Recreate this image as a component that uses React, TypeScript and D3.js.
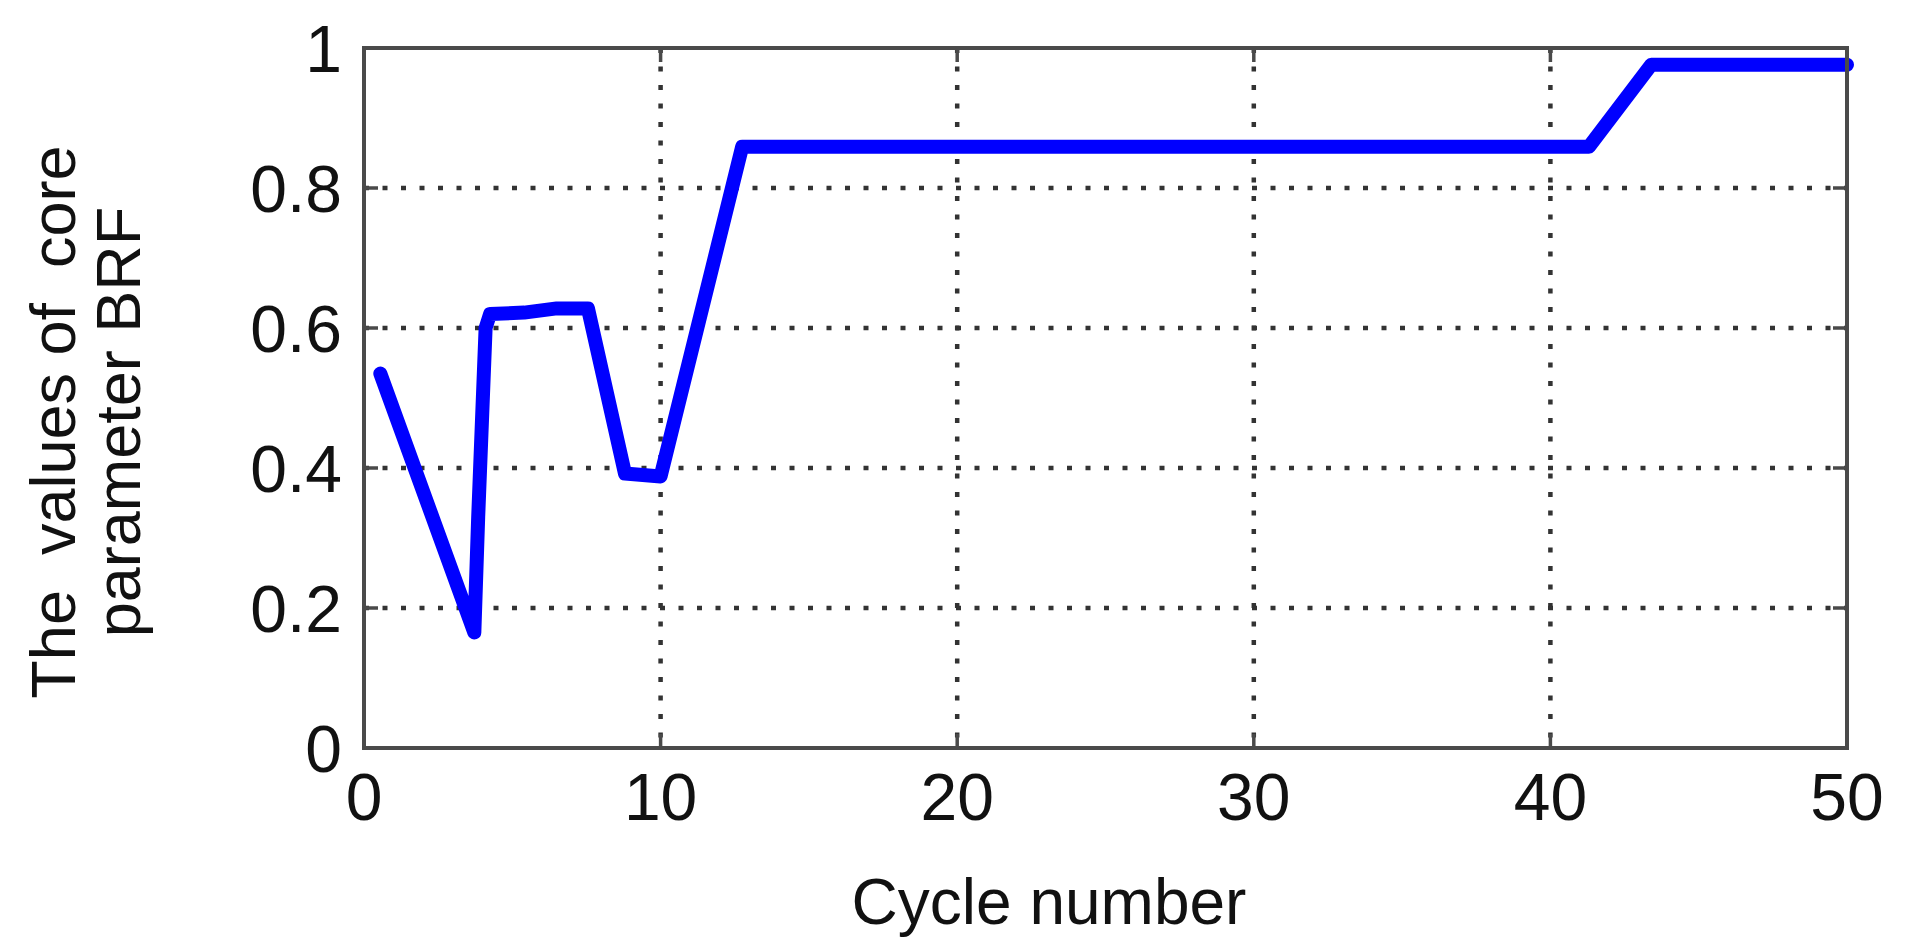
import React from "react";
import * as d3 from "d3";

const cycles = [0.55, 3.72, 3.85, 4.1, 4.25, 5.4, 6.5, 7.55, 8.8, 10.0, 12.75, 41.3, 43.4, 50];
const brf = [0.535, 0.165, 0.33, 0.6, 0.62, 0.622, 0.628, 0.628, 0.392, 0.388, 0.859, 0.859, 0.976, 0.976];
const xTicks = [0, 10, 20, 30, 40, 50];
const xTickLabels = ["0", "10", "20", "30", "40", "50"];
const yTicks = [0, 0.2, 0.4, 0.6, 0.8, 1];
const yTickLabels = ["0", "0.2", "0.4", "0.6", "0.8", "1"];
const xTitle = "Cycle number";
const yTitleLines = ["The  values of  core", "parameter BRF"];

const W = 1906;
const H = 946;
const L = 364, R = 1847, T = 48, B = 748;
const FONT = "'Liberation Sans', Arial, sans-serif";

export default function App() {
  const x = d3.scaleLinear().domain([0, 50]).range([L, R]);
  const y = d3.scaleLinear().domain([0, 1]).range([B, T]);
  const pts: [number, number][] = cycles.map((c, i) => [c, brf[i]]);
  const line = d3
    .line<[number, number]>()
    .x((d) => x(d[0]))
    .y((d) => y(d[1]));
  const tickLen = 14;
  const gridColor = "#333";
  const axisColor = "#4a4a4a";

  return (
    <svg
      width={W}
      height={H}
      style={{ position: "absolute", left: 0, top: 0, display: "block", background: "#fff" }}
    >
      <rect x={0} y={0} width={W} height={H} fill="#fff" />
      {/* grid */}
      {xTicks
        .filter((t) => t > 0 && t < 50)
        .map((t) => (
          <line
            key={"gx" + t}
            x1={x(t)}
            x2={x(t)}
            y1={T}
            y2={B}
            stroke={gridColor}
            strokeWidth={4.5}
            strokeDasharray="5 13.5"
          />
        ))}
      {yTicks
        .filter((t) => t > 0 && t < 1)
        .map((t) => (
          <line
            key={"gy" + t}
            x1={L}
            x2={R}
            y1={y(t)}
            y2={y(t)}
            stroke={gridColor}
            strokeWidth={4.5}
            strokeDasharray="5 13.5"
          />
        ))}
      {/* ticks */}
      {xTicks.map((t) => (
        <g key={"tx" + t}>
          <line x1={x(t)} x2={x(t)} y1={B} y2={B - tickLen} stroke={axisColor} strokeWidth={3.5} />
          <line x1={x(t)} x2={x(t)} y1={T} y2={T + tickLen} stroke={axisColor} strokeWidth={3.5} />
        </g>
      ))}
      {yTicks.map((t) => (
        <g key={"ty" + t}>
          <line x1={L} x2={L + tickLen} y1={y(t)} y2={y(t)} stroke={axisColor} strokeWidth={3.5} />
          <line x1={R} x2={R - tickLen} y1={y(t)} y2={y(t)} stroke={axisColor} strokeWidth={3.5} />
        </g>
      ))}
      {/* data line */}
      <path
        d={line(pts) || ""}
        fill="none"
        stroke="#0000ff"
        strokeWidth={14}
        strokeLinejoin="round"
        strokeLinecap="round"
      />
      {/* axes box */}
      <rect x={L} y={T} width={R - L} height={B - T} fill="none" stroke={axisColor} strokeWidth={4} />
      {/* tick labels */}
      {xTicks.map((t, i) => (
        <text
          key={"lx" + t}
          x={x(t)}
          y={820}
          textAnchor="middle"
          fontFamily={FONT}
          fontSize={66}
          fill="#111"
        >
          {xTickLabels[i]}
        </text>
      ))}
      {yTicks.map((t, i) => (
        <text
          key={"ly" + t}
          x={342}
          y={y(t)}
          dy="0.36em"
          textAnchor="end"
          fontFamily={FONT}
          fontSize={66}
          fill="#111"
        >
          {yTickLabels[i]}
        </text>
      ))}
      {/* axis titles */}
      <text x={1049} y={924} textAnchor="middle" fontFamily={FONT} fontSize={64} fill="#111">
        {xTitle}
      </text>
      {yTitleLines.map((s, i) => (
        <text
          key={"yt" + i}
          transform={`translate(${75 + i * 65},422) rotate(-90)`}
          textAnchor="middle"
          fontFamily={FONT}
          fontSize={63}
          fill="#111"
          style={{ whiteSpace: "pre" }}
        >
          {s}
        </text>
      ))}
    </svg>
  );
}
